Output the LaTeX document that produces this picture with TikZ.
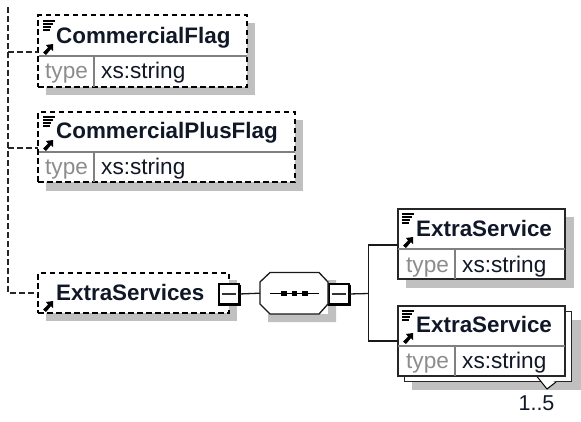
\documentclass[tikz,border=0pt]{standalone}
\usepackage{fontspec}
\setmainfont{Liberation Sans}
\usetikzlibrary{arrows.meta}
\definecolor{shade}{HTML}{C0C0C0}
\definecolor{ink}{HTML}{101828}
\tikzset{
  x=1pt,y=-1pt,
  boxbase/.style={draw=black!85,fill=white,minimum width=#1,inner sep=0pt,outer sep=0pt,anchor=north west,line width=1.5pt},
  solidbox/.style={boxbase=#1,solid},
  dashbox/.style={boxbase=#1,draw=black,line width=1.8pt,dash pattern=on 5.5pt off 3.5pt},
  shadowfill/.style={fill=shade,draw=none},
  rulegrey/.style={draw=black!50,line width=1.2pt},
  conn/.style={draw=black!90,line width=1.3pt},
  dashconn/.style={draw=black!85,line width=1.4pt,dash pattern=on 5.5pt off 3.5pt},
  titlelab/.style={font=\fontsize{22.4}{26}\selectfont\bfseries,text=ink,anchor=base west,inner sep=0pt},
  typelab/.style={font=\fontsize{22.6}{26}\selectfont,text=black!45,anchor=base west,inner sep=0pt},
  vallab/.style={font=\fontsize{22.6}{26}\selectfont,text=ink,anchor=base west,inner sep=0pt},
  occlab/.style={font=\fontsize{21.5}{26}\selectfont,text=ink,inner sep=0pt,anchor=base},
  sqbox/.style={draw=black,fill=white,line width=1.3pt,minimum size=20pt,inner sep=0pt,outer sep=0pt,anchor=north west},
}
\newcommand{\icons}[2]{%
  \foreach \d in {0,3,6,9}{\draw[black,line width=1.1pt] (#1+4,#2+6+\d) -- (#1+16-\d*0.6,#2+6+\d);}
}
\newcommand{\arrowicon}[2]{%
  \fill[black] (#1+2,#2+0.5) -- (#1+7,#2-4.5) -- (#1+5,#2-7) -- (#1+12,#2-8) -- (#1+12,#2-1) -- (#1+10,#2-3) -- (#1+5,#2+3) -- cycle;
}
\newcommand{\msq}[1]{%
  \draw[black!80,line width=1.3pt] ([xshift=3pt]#1.west) -- ([xshift=-3pt]#1.east);
  \draw[black,line width=2.6pt] ([xshift=.7pt,yshift=-.7pt]#1.north east) -- ([xshift=.7pt,yshift=-.7pt]#1.south east) -- ([xshift=-.7pt,yshift=-.7pt]#1.south west);
}
\begin{document}
\begin{tikzpicture}
\useasboundingbox (0,0) rectangle (581,421);
% shadows
\fill[shadowfill] (46,23) rectangle (255,95);
\fill[shadowfill] (46,120) rectangle (303,191);
\fill[shadowfill] (46,280) rectangle (237,321);
\fill[shadowfill] (268,314) -- (268,322) -- (336,322) -- (336,280) -- (328,280) -- (328,314) -- cycle;
\fill[shadowfill] (406,217) rectangle (574,288);
\fill[shadowfill] (412,320) rectangle (581,390);
% first box
\node[dashbox=209pt,minimum height=72pt] (cf) at (38,15) {};
\draw[rulegrey] (39,56) -- (247,56);
\draw[rulegrey] (94,56) -- (94,87);
\icons{39}{15}
\arrowicon{41}{52}
\node[titlelab] (cft) at (56,43) {CommercialFlag};
\node[typelab] (cfa) at (45,78) {type};
\node[vallab] (cfb) at (101,78) {xs:string};
% second box
\node[dashbox=257pt,minimum height=70pt] (cp) at (38,112) {};
\draw[rulegrey] (39,152) -- (295,152);
\draw[rulegrey] (94,152) -- (94,182);
\icons{39}{111}
\arrowicon{41}{148}
\node[titlelab] (cpt) at (56,138.5) {CommercialPlusFlag};
\node[typelab] (cpa) at (45,174) {type};
\node[vallab] (cpb) at (101,174) {xs:string};
% extra services
\node[dashbox=191pt,minimum height=40pt] (es) at (38,273) {};
\arrowicon{41}{309}
\node[titlelab] (est) at (56,300) {ExtraServices};
% trunk
\coordinate (trunktop) at (8,7);
\coordinate (trunkbot) at (8,293);
\coordinate (tr1) at (8,52);
\coordinate (tr2) at (8,148);
\coordinate (j1) at (38,52);
\coordinate (j2) at (38,148);
\draw[dashconn] (trunktop) -- (trunkbot) -- (es.west);
\draw[dashconn] (tr1) -- (j1);
\draw[dashconn] (tr2) -- (j2);
% minus squares
\node[sqbox] (m1) at (219,284) {};
\msq{m1}
\node[sqbox] (m2) at (329,284) {};
\msq{m2}
% octagon
\node[inner sep=0pt,minimum width=68pt,minimum height=42pt,anchor=north west] (oct) at (260,272) {};
\draw[black!90,fill=white,line width=1.3pt] (270,272.5) -- (319,272.5) -- (328,282) -- (328,304) -- (319,314) -- (270,314) -- (260,304) -- (260,282) -- cycle;
\draw[black,line width=1.2pt] (270,293.5) -- (319,293.5);
\foreach \p in {284,294.5,305}{\fill[black] (\p-2.6,291) rectangle (\p+2.6,296);}
% right boxes
\node[solidbox=167pt,minimum height=70pt] (e1) at (398,209) {};
\draw[rulegrey] (398,249) -- (565,249);
\draw[rulegrey] (455,249) -- (455,279);
\icons{398}{208}
\arrowicon{401}{245}
\node[titlelab] (e1t) at (416,236) {ExtraService};
\node[typelab] (e1a) at (406,272) {type};
\node[vallab] (e1b) at (462,272) {xs:string};
% stacked
\node[solidbox=167pt,minimum height=70pt] (e2b) at (404.5,311.5) {};
\node[solidbox=167pt,minimum height=70pt] (e2) at (398,306) {};
\draw[rulegrey] (398,346) -- (565,346);
\draw[rulegrey] (455,346) -- (455,376);
\icons{398}{305}
\arrowicon{401}{341}
\node[titlelab] (e2t) at (416,332.5) {ExtraService};
\node[typelab] (e2a) at (406,368) {type};
\node[vallab] (e2v) at (462,368) {xs:string};
% occurrence notch
\draw[black,line width=1pt,fill=white] (537,376.5) -- (547,389) -- (556,382);
\node[occlab] (occ) at (536.5,410) {1..5};
% connectors
\coordinate (fork) at (368.5,293.5);
\coordinate (e1in) at (398,245);
\coordinate (e2in) at (398,341);
\draw[conn] (m1.east) -- (oct.west);
\draw[conn] (oct.east) -- (m2.west);
\draw[conn] (m2.east) -- (fork);
\draw[conn] (e1in) -| (fork);
\draw[conn] (e2in) -| (fork);
\end{tikzpicture}
\end{document}
